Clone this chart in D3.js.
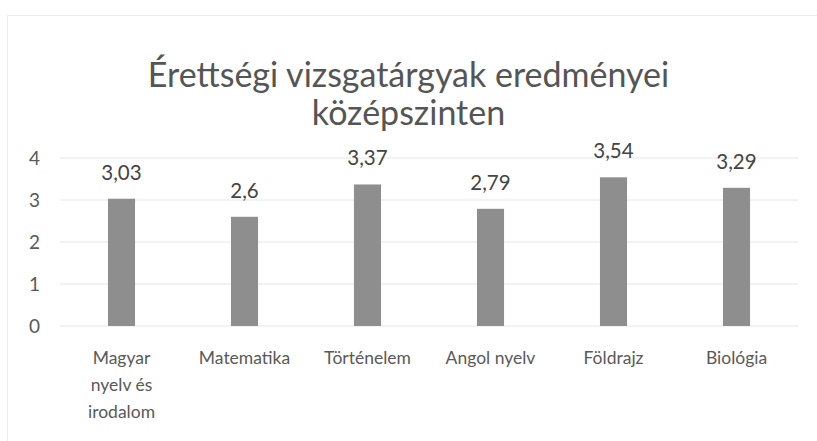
<!DOCTYPE html>
<html>
<head>
<meta charset="utf-8">
<script src="https://cdn.jsdelivr.net/npm/d3@7"></script>
<style>
  html, body { margin: 0; padding: 0; background: #fff; overflow: hidden; }
  svg { display: block; }
  text { font-family: Lato, "Open Sans", sans-serif; }
</style>
</head>
<body>
<svg id="chart" width="817" height="441"></svg>
<script>
var categories = [
  ["Magyar", "nyelv és", "irodalom"],
  ["Matematika"],
  ["Történelem"],
  ["Angol nyelv"],
  ["Földrajz"],
  ["Biológia"]
];
var values = [3.03, 2.6, 3.37, 2.79, 3.54, 3.29];
var valueLabels = ["3,03", "2,6", "3,37", "2,79", "3,54", "3,29"];
var yTicks = [0, 1, 2, 3, 4];
var titleLines = ["Érettségi vizsgatárgyak eredményei", "középszinten"];

var margin = {top: 158, right: 19, bottom: 115, left: 60},
  svg = d3.select("#chart"),
  width = +svg.attr("width"),
  height = +svg.attr("height"),
  innerWidth = width - margin.left - margin.right,
  innerHeight = height - margin.top - margin.bottom,
  textColor = "#595959";

// faint scan edges (top and left)
svg.append("path")
  .attr("d", "M7.5," + height + "V15.5H" + width)
  .attr("fill", "none")
  .attr("stroke", "#ececec")
  .attr("stroke-width", 1);

svg.append("g")
  .selectAll("text")
  .data(titleLines)
  .enter().append("text")
  .attr("x", width / 2)
  .attr("y", function(d, i) { return 87 + i * 38; })
  .attr("text-anchor", "middle")
  .attr("fill", "#555")
  .attr("font-size", 34)
  .text(function(d) { return d; });

var g = svg.append("g")
  .attr("transform", "translate(" + margin.left + "," + margin.top + ")");

var x = d3.scaleBand()
  .domain(d3.range(categories.length))
  .range([0, innerWidth])
  .paddingInner(0.78)
  .paddingOuter(0.39);

var y = d3.scaleLinear()
  .domain([0, 4])
  .range([innerHeight, 0]);

// gridlines
g.append("g")
  .selectAll("line")
  .data(yTicks)
  .enter().append("line")
  .attr("x1", 0)
  .attr("x2", innerWidth)
  .attr("y1", function(d) { return y(d); })
  .attr("y2", function(d) { return y(d); })
  .attr("stroke", "#e6e6e6")
  .attr("stroke-width", 1);

var yAxis = g.append("g")
  .call(d3.axisLeft(y).tickValues(yTicks).tickFormat(d3.format("d")).tickSize(0).tickPadding(20));
yAxis.select(".domain").remove();
yAxis.selectAll("text")
  .attr("fill", textColor)
  .attr("font-size", 19)
  .style("font-family", "Lato, sans-serif");

g.append("g")
  .selectAll("rect")
  .data(values)
  .enter().append("rect")
  .attr("x", function(d, i) { return x(i); })
  .attr("y", function(d) { return y(d); })
  .attr("width", x.bandwidth())
  .attr("height", function(d) { return innerHeight - y(d); })
  .attr("fill", "#8e8e8e");

g.append("g")
  .selectAll("text")
  .data(values)
  .enter().append("text")
  .attr("x", function(d, i) { return x(i) + x.bandwidth() / 2; })
  .attr("y", function(d) { return y(d) - 19; })
  .attr("text-anchor", "middle")
  .attr("fill", "#444")
  .attr("font-size", 20.5)
  .text(function(d, i) { return valueLabels[i]; });

var labels = g.append("g")
  .selectAll("text")
  .data(categories)
  .enter().append("text")
  .attr("text-anchor", "middle")
  .attr("fill", textColor)
  .attr("font-size", 17.5)
  .attr("transform", function(d, i) {
    return "translate(" + (x(i) + x.bandwidth() / 2) + "," + (innerHeight + 38) + ")";
  });

labels.selectAll("tspan")
  .data(function(d) { return d; })
  .enter().append("tspan")
  .attr("x", 0)
  .attr("dy", function(d, i) { return i === 0 ? 0 : 27; })
  .text(function(d) { return d; });
</script>
</body>
</html>
